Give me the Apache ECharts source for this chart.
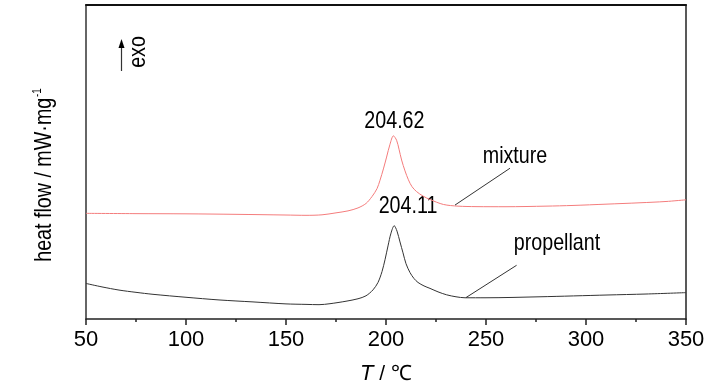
<!DOCTYPE html>
<html>
<head>
<meta charset="utf-8">
<script src="https://cdn.jsdelivr.net/npm/echarts@6/dist/echarts.min.js"></script>
<style>html,body{margin:0;padding:0;background:#fff}#c{width:728px;height:390px}</style>
</head>
<body>
<div id="c"></div>
<script>
// Temperature (°C) and heat flow (arbitrary offset units)
const mixtureT = [50,75,100,125,150,160,168,175,181,186,190,193,195.5,197,198.7,200.3,202,203.7,205.3,206.5,207.8,209.5,211.2,213,215.3,218.5,222,228.7,236,245,260,280,293.5,310,327,340,350];
const mixtureV = [107,106.7,106.5,106,105.3,105,105.5,107.5,109.5,112.5,117,124,132,140.5,152,164,177,185.5,181,172,161,150,141,134,129,124.5,121,116,114.3,113.8,113.7,114.3,115,116.3,117.7,119,120.7];
const propT = [50,58,66.5,75,83.5,100,116.5,133.5,150,160,166.5,172,180,186,190,193.5,196,198,199.5,201,202.5,204.1,205.5,207,208.5,210,212,214,216,219,222,226,230.3,235,239.5,250,277,310.5,330,350];
const propV = [36,32.5,29.3,27,25,22,19.3,17.3,15.3,14.8,14.5,15.5,18,20.5,23.5,29.5,37,48,60,74,87,94.5,89,78,67,56,47,41,37,33.5,31,27.5,24.5,22.5,21.5,21.5,22.5,24.3,25.3,26.7];
const xTicks = [50,100,150,200,250,300,350];
const peakLabels = ['204.62','204.11'];
const seriesNames = ['mixture','propellant'];

const FONT = "'Liberation Sans Narrow','Arial Narrow','Liberation Sans',Arial,sans-serif";
const NARROW = 0.82;
const zip = (a,b) => a.map((t,i)=>[t,b[i]]);

const chart = echarts.init(document.getElementById('c'), null, {renderer:'canvas'});

chart.setOption({
  animation:false,
  textStyle:{fontFamily:FONT},
  grid:{left:86,right:42,top:5,bottom:67},
  xAxis:[{
    type:'value', min:xTicks[0], max:xTicks[xTicks.length-1], interval:50,
    axisLine:{show:true,onZero:false,lineStyle:{color:'#222',width:1.5}},
    axisTick:{show:true,inside:false,length:6,lineStyle:{color:'#222',width:1.5}},
    minorTick:{show:true,splitNumber:2,length:3,lineStyle:{color:'#222',width:1.5}},
    splitLine:{show:false},
    axisLabel:{color:'#000',fontSize:22,margin:10,fontFamily:FONT},
    name:'{it|T} / ℃', nameLocation:'middle', nameGap:44,
    nameTextStyle:{color:'#000',fontSize:21,fontFamily:FONT,rich:{it:{fontStyle:'italic',fontSize:22,fontFamily:FONT,color:'#000'}}}
  },{
    type:'value', position:'top', min:50, max:350,
    axisLine:{show:true,onZero:false,lineStyle:{color:'#111',width:2}},
    axisTick:{show:false}, axisLabel:{show:false}, splitLine:{show:false}
  }],
  yAxis:[{
    type:'value', min:0, max:318,
    axisLine:{show:true,onZero:false,lineStyle:{color:'#333',width:1.5}},
    axisTick:{show:false}, axisLabel:{show:false}, splitLine:{show:false}
  },{
    type:'value', position:'right', min:0, max:318,
    axisLine:{show:true,onZero:false,lineStyle:{color:'#222',width:1.5}},
    axisTick:{show:false}, axisLabel:{show:false}, splitLine:{show:false}
  }],
  series:[{
    name:seriesNames[0], type:'line', data:zip(mixtureT,mixtureV), smooth:0.3, showSymbol:false,
    lineStyle:{color:'#f47c7c',width:1},
    markLine:{symbol:'none',silent:true,label:{show:false},lineStyle:{color:'#333',width:1,type:'solid'},
      data:[[{coord:[234.5,115.4]},{coord:[262,152.7]}]]}
  },{
    name:seriesNames[1], type:'line', data:zip(propT,propV), smooth:0.3, showSymbol:false,
    lineStyle:{color:'#333',width:1},
    markLine:{symbol:'none',silent:true,label:{show:false},lineStyle:{color:'#333',width:1,type:'solid'},
      data:[[{coord:[240,21.7]},{coord:[265.3,54.4]}]]}
  }]
});

// text annotations placed at data positions, condensed to mimic a narrow face
const annots = [
  {text:peakLabels[0], at:[204.2,199.7]},
  {text:seriesNames[0], at:[264.5,164.7]},
  {text:peakLabels[1], at:[211,113.7]},
  {text:seriesNames[1], at:[285.5,76.7]}
];
const g = annots.map(a => {
  const p = chart.convertToPixel({gridIndex:0}, a.at);
  return {type:'text', x:p[0], y:p[1], scaleX:NARROW,
    style:{text:a.text, fontSize:24, fontFamily:FONT, fill:'#000', textAlign:'center', textVerticalAlign:'middle'}};
});
g.push(
  {type:'line',shape:{x1:121.5,y1:71,x2:121.5,y2:46},style:{stroke:'#333',lineWidth:1.2}},
  {type:'polygon',shape:{points:[[121.5,39],[118.5,48],[124.5,48]]},style:{fill:'#000'}},
  {type:'text',x:138,y:52,rotation:Math.PI/2,scaleX:NARROW,style:{text:'exo',fontSize:24,fontFamily:FONT,fill:'#000',textAlign:'center',textVerticalAlign:'middle'}},
  {type:'text',x:44,y:175,rotation:Math.PI/2,scaleX:NARROW,style:{
    text:'heat flow / mW·mg{sup|-1}',fontSize:24,fontFamily:FONT,fill:'#000',textAlign:'center',textVerticalAlign:'middle',
    rich:{sup:{fontSize:12,fontFamily:FONT,fill:'#000',verticalAlign:'top',padding:[0,0,12,1]}}}}
);
chart.setOption({graphic:g});
</script>
</body>
</html>
